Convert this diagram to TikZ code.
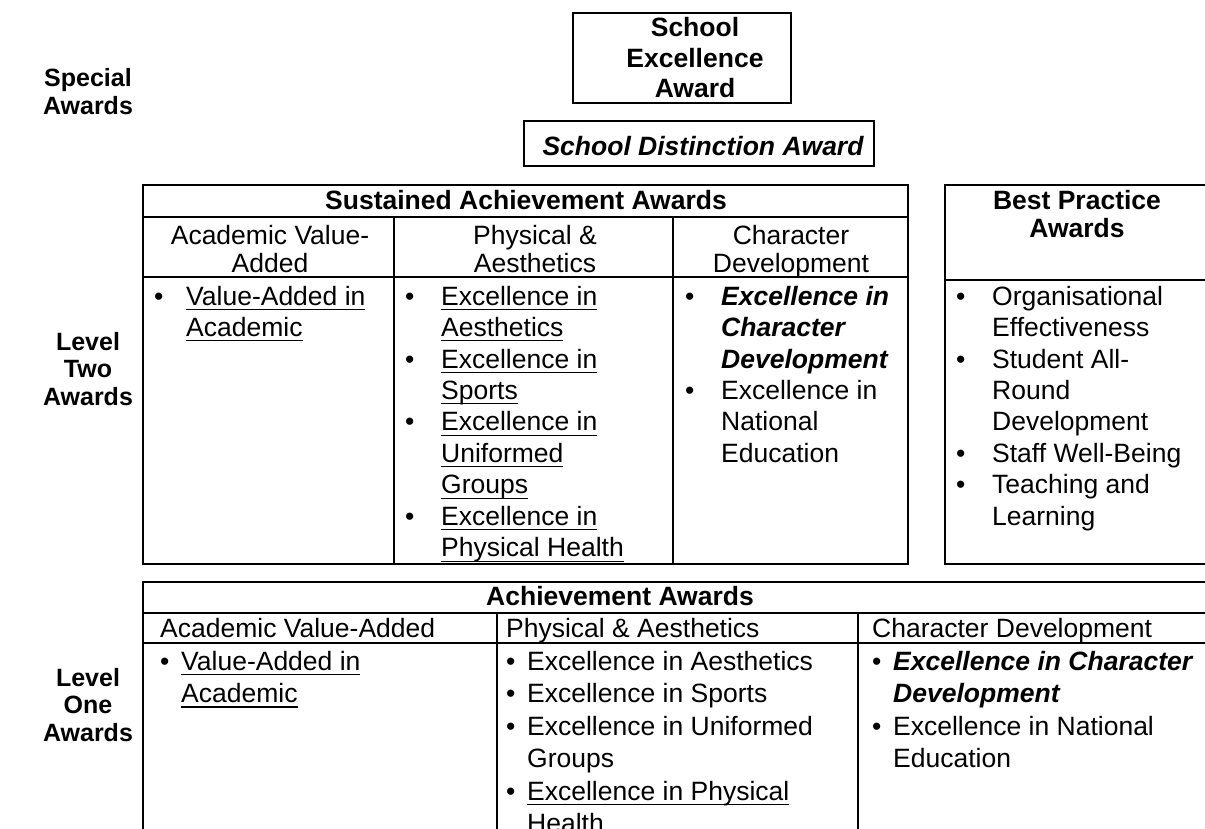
\documentclass[tikz,border=0pt]{standalone}
\usepackage{fontspec}
\usepackage{graphicx}
\setmainfont{Liberation Sans}
\newcommand\uln[1]{\setbox0\hbox{#1}\rlap{\rule[-5pt]{\wd0}{1.4pt}}\box0}
\newcommand\bul[1]{\makebox[#1][l]{\textbullet}}
\newcommand\ind[1]{\hspace*{#1}}
\newcommand\rowsl[1]{\begin{tabular}[t]{@{}l@{}}#1\end{tabular}}
\newcommand\rowsc[1]{\begin{tabular}[t]{@{}c@{}}#1\end{tabular}}
\begin{document}
\begin{tikzpicture}[x=1pt,y=-1pt,
  txt/.style={inner sep=0pt, font=\fontsize{26.5}{31.5}\selectfont},
  txtb/.style={inner sep=0pt, font=\fontsize{26.5}{32.5}\selectfont},
  hdr/.style={inner sep=0pt, font=\fontsize{26.5}{28}\selectfont\bfseries, anchor=base},
  sub/.style={inner sep=0pt, font=\fontsize{26.5}{27}\selectfont, anchor=base},
  lbl/.style={inner sep=0pt, font=\fontsize{25}{27.5}\selectfont\bfseries, anchor=base},
  frame/.style={draw=black, line width=1.6pt}]
\useasboundingbox (0,0) rectangle (1205,829);
\clip (0,0) rectangle (1205,829);

% left labels
\node[lbl] (special) at (88,87) {\rowsc{Special\\Awards}};
\node[lbl] (leveltwo) at (88,350) {\rowsc{Level\\Two\\Awards}};
\node[lbl] (levelone) at (88,686) {\rowsc{Level\\One\\Awards}};

% special awards boxes
\draw[frame] (573,13) rectangle (791,103);
\node[inner sep=0pt, font=\fontsize{26.5}{30.5}\selectfont\bfseries, anchor=base] (sea) at (695,37) {\rowsc{School\\Excellence\\Award}};
\draw[frame] (524,121) rectangle (874,166);
\node[inner sep=0pt, font=\fontsize{26.5}{31}\selectfont\bfseries\itshape, anchor=base] (sda) at (703,156) {School Distinction Award};

% sustained achievement table
\draw[frame] (143,185) rectangle (908,564);
\draw[frame] (143,217) -- (908,217);
\draw[frame] (143,277) -- (908,277);
\draw[frame] (394,217) -- (394,564);
\draw[frame] (673,217) -- (673,564);
\node[hdr] (sah) at (526,210) {Sustained Achievement Awards};
\node[sub] (s1h) at (270,245) {\rowsc{Academic Value-\\Added}};
\node[sub] (s2h) at (535,245) {\rowsc{Physical \&\\Aesthetics}};
\node[sub] (s3h) at (791,245) {\rowsc{Character\\Development}};
\node[txt, anchor=base west] (s1b) at (154,305) {\rowsl{\bul{32pt}\uln{Value-Added in}\\\ind{32pt}\uln{Academic}}};
\node[txt, anchor=base west] (s2b) at (405,305) {\rowsl{%
 \bul{36pt}\uln{Excellence in}\\\ind{36pt}\uln{Aesthetics}\\
 \bul{36pt}\uln{Excellence in}\\\ind{36pt}\uln{Sports}\\
 \bul{36pt}\uln{Excellence in}\\\ind{36pt}\uln{Uniformed}\\\ind{36pt}\uln{Groups}\\
 \bul{36pt}\uln{Excellence in}\\\ind{36pt}\uln{Physical Health}}};
\node[txt, anchor=base west] (s3b) at (685,305) {\rowsl{%
 \bul{36pt}\textbf{\textit{Excellence in}}\\\ind{36pt}\textbf{\textit{Character}}\\\ind{36pt}\textbf{\textit{Development}}\\
 \bul{36pt}Excellence in\\\ind{36pt}National\\\ind{36pt}Education}};

% best practice awards
\draw[frame] (1215,185) -- (945,185) -- (945,564) -- (1215,564);
\draw[frame] (945,280) -- (1215,280);
\node[hdr] (bph) at (1077,210) {\rowsc{Best Practice\\Awards}};
\node[txt, anchor=base west] (bpb) at (956,305) {\rowsl{%
 \bul{36pt}Organisational\\\ind{36pt}Effectiveness\\
 \bul{36pt}Student All-\\\ind{36pt}Round\\\ind{36pt}Development\\
 \bul{36pt}Staff Well-Being\\
 \bul{36pt}Teaching and\\\ind{36pt}Learning}};

% achievement awards table
\draw[frame] (1215,582) -- (143,582) -- (143,840);
\draw[frame] (143,613) -- (1215,613);
\draw[frame] (143,643) -- (1215,643);
\draw[frame] (497,613) -- (497,840);
\draw[frame] (858,613) -- (858,840);
\node[hdr] (aah) at (620,605) {Achievement Awards};
\node[txt, anchor=base west] (a1h) at (160,637) {Academic Value-Added};
\node[txt, anchor=base west] (a2h) at (506,637) {Physical \& Aesthetics};
\node[txt, anchor=base west] (a3h) at (872,637) {Character Development};
\node[txtb, anchor=base west] (a1b) at (160,670) {\rowsl{\bul{21pt}\uln{Value-Added in}\\\ind{21pt}\uln{Academic}}};
\node[txtb, anchor=base west] (a2b) at (506,670) {\rowsl{%
 \bul{21pt}Excellence in Aesthetics\\
 \bul{21pt}Excellence in Sports\\
 \bul{21pt}Excellence in Uniformed\\\ind{21pt}Groups\\
 \bul{21pt}\uln{Excellence in Physical}\\\ind{21pt}Health}};
\node[txtb, anchor=base west] (a3b) at (872,670) {\rowsl{%
 \bul{21pt}\textbf{\textit{Excellence in Character}}\\\ind{21pt}\textbf{\textit{Development}}\\
 \bul{21pt}Excellence in National\\\ind{21pt}Education}};
\end{tikzpicture}
\end{document}
